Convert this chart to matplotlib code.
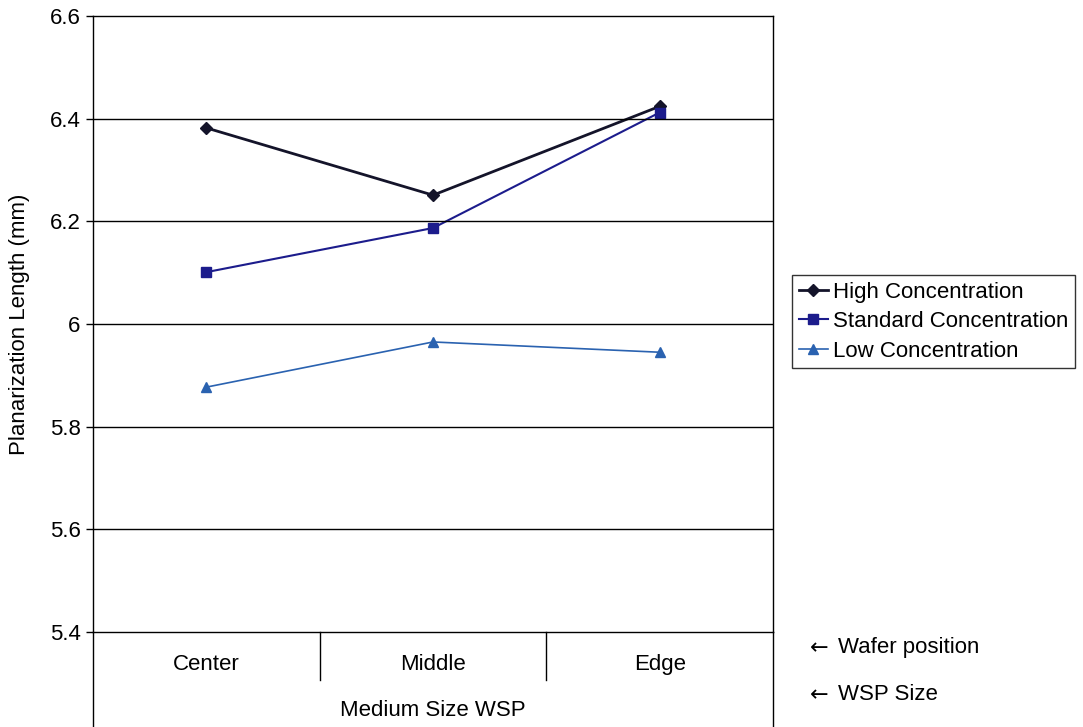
import matplotlib.pyplot as plt

positions = ['Center', 'Middle', 'Edge']
high = [6.382, 6.251, 6.424]
standard = [6.101, 6.187, 6.412]
low = [5.877, 5.965, 5.945]
yticks = [5.4, 5.6, 5.8, 6.0, 6.2, 6.4, 6.6]
ytick_labels = ['5.4', '5.6', '5.8', '6', '6.2', '6.4', '6.6']

plt.rcParams['font.family'] = ['Liberation Sans', 'DejaVu Sans']
plt.rcParams['font.size'] = 16

fig = plt.figure(figsize=(10.83, 7.27), dpi=100)
ax = fig.add_axes([93/1083, 1 - 632/727, 680/1083, 616/727])

x = range(len(positions))
ax.plot(x, high, color='#14142a', lw=2, marker='D', ms=6, label='High Concentration')
ax.plot(x, standard, color='#1c1c8c', lw=1.5, marker='s', ms=7, label='Standard Concentration')
ax.plot(x, low, color='#2a62b0', lw=1.2, marker='^', ms=7, label='Low Concentration')

ax.set_xlim(-0.5, 2.5)
ax.set_ylim(5.4, 6.6)
ax.set_yticks(yticks)
ax.set_yticklabels(ytick_labels)
ax.tick_params(axis='y', length=5, width=1, pad=4, labelsize=16)
ax.set_xticks([])
for yv in yticks[1:-1]:
    ax.axhline(yv, color='black', lw=1)
for s in ax.spines.values():
    s.set_linewidth(1)
ax.set_ylabel('Planarization Length (mm)', fontsize=16, labelpad=14)

# category table below the axis
tr = ax.get_xaxis_transform()
for xd in [0.5, 1.5]:
    ax.plot([xd, xd], [0, -0.078], color='black', lw=1, transform=tr, clip_on=False)
for xe in [-0.5, 2.5]:
    ax.plot([xe, xe], [0, -0.16], color='black', lw=1, transform=tr, clip_on=False)
for i, p in enumerate(positions):
    ax.text(i, -0.053, p, transform=tr, ha='center', va='center', fontsize=16)
ax.text(1, -0.127, 'Medium Size WSP', transform=tr, ha='center', va='center', fontsize=16)

for yy, lab in [(648, 'Wafer position'), (695, 'WSP Size')]:
    fig.text(810/1083, 1 - yy/727, '\u2190', family='DejaVu Sans', ha='left', va='center', fontsize=16)
    fig.text(838/1083, 1 - yy/727, lab, ha='left', va='center', fontsize=16)

leg = fig.legend(loc='upper left', bbox_to_anchor=(792/1083, 1 - 275/727),
                 fontsize=16, frameon=True, fancybox=False, edgecolor='black',
                 handlelength=1.3, handletextpad=0.25, borderpad=0.3, labelspacing=0.38,
                 borderaxespad=0)
leg.get_frame().set_linewidth(1)

plt.savefig('out.png', dpi=100)
